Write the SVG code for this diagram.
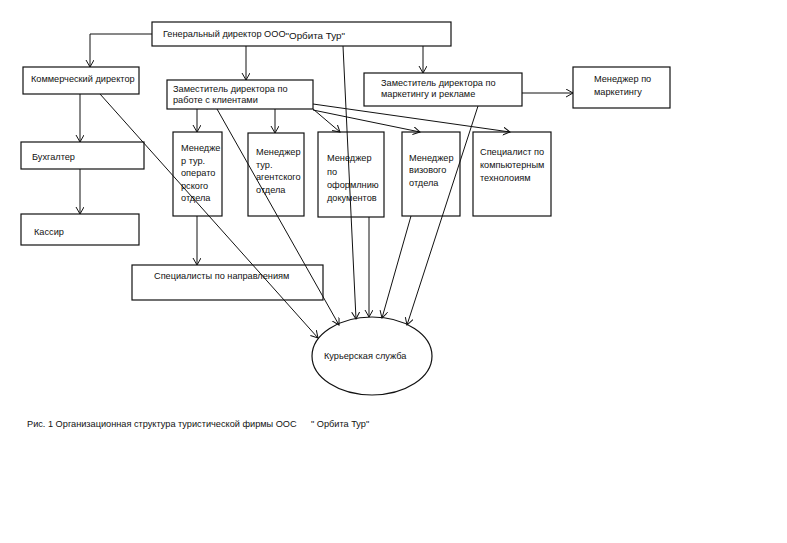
<svg xmlns="http://www.w3.org/2000/svg" width="787" height="543" viewBox="0 0 787 543">
<defs>
<style>
.b{fill:#fff;stroke:#111;stroke-width:1.2}
.t{font-family:"Liberation Sans",Arial,sans-serif;font-size:9.2px;fill:#111}
.c line,.c polyline{stroke:#111;stroke-width:1;fill:none;marker-end:url(#a)}
</style>
<marker id="a" markerUnits="userSpaceOnUse" markerWidth="9" markerHeight="9" refX="7" refY="4" orient="auto"><path d="M0,0 L7,4 L0,8" fill="none" stroke="#111" stroke-width="1"/></marker>
</defs>
<rect width="787" height="543" fill="#fff"/>
<g id="gen"><rect class="b" x="152" y="22" width="299" height="24"/><text class="t" x="163" y="37">Генеральный директор ООО<tspan font-size="9.8px" dy="2">"Орбита Тур"</tspan></text></g>
<g id="kom"><rect class="b" x="23" y="67" width="116" height="27"/><text class="t" x="31" y="82">Коммерческий директор</text></g>
<g id="zkl"><rect class="b" x="167" y="80" width="146" height="29"/><text class="t" x="173" y="92">Заместитель директора по</text><text class="t" x="173" y="103">работе с клиентами</text></g>
<g id="zmk"><rect class="b" x="364" y="73" width="158" height="33"/><text class="t" x="381" y="86">Заместитель директора по</text><text class="t" x="381" y="97">маркетингу и рекламе</text></g>
<g id="mmk"><rect class="b" x="573" y="67" width="97" height="41"/><text class="t" x="594" y="82">Менеджер по</text><text class="t" x="594" y="95">маркетингу</text></g>
<g id="buh"><rect class="b" x="21" y="142" width="123" height="27"/><text class="t" x="32" y="160">Бухгалтер</text></g>
<g id="kas"><rect class="b" x="21" y="214" width="118" height="31"/><text class="t" x="34" y="235">Кассир</text></g>
<g id="mto"><rect class="b" x="173" y="132" width="49" height="84"/><text class="t" x="181" y="151">Менедже</text><text class="t" x="181" y="164">р тур.</text><text class="t" x="181" y="176">операто</text><text class="t" x="181" y="189">рского</text><text class="t" x="181" y="201">отдела</text></g>
<g id="mta"><rect class="b" x="248" y="133" width="56" height="83"/><text class="t" x="256" y="155">Менеджер</text><text class="t" x="256" y="168">тур.</text><text class="t" x="256" y="180">агентского</text><text class="t" x="256" y="193">отдела</text></g>
<g id="mod"><rect class="b" x="318" y="132" width="66" height="85"/><text class="t" x="327" y="161">Менеджер</text><text class="t" x="327" y="175">по</text><text class="t" x="327" y="188">оформлнию</text><text class="t" x="327" y="201">документов</text></g>
<g id="mvo"><rect class="b" x="402" y="132" width="58" height="84"/><text class="t" x="409" y="161">Менеджер</text><text class="t" x="409" y="173">визового</text><text class="t" x="409" y="186">отдела</text></g>
<g id="skt"><rect class="b" x="473" y="132" width="78" height="84"/><text class="t" x="480" y="155">Специалист по</text><text class="t" x="480" y="168">компьютерным</text><text class="t" x="480" y="181">технолоиям</text></g>
<g id="spn"><rect class="b" x="132" y="265" width="191" height="35"/><text class="t" x="154" y="279">Специалисты по направлениям</text></g>
<g id="kur"><ellipse class="b" cx="372" cy="356" rx="60" ry="39"/><text class="t" x="324" y="359">Курьерская служба</text></g>
<g class="c" id="connectors">
<polyline points="152,34 90,34 90,67"/>
<line x1="246" y1="46" x2="246" y2="80"/>
<line x1="423" y1="46" x2="423" y2="73"/>
<line x1="343" y1="46" x2="356" y2="319"/>
<line x1="80" y1="94" x2="80" y2="142"/>
<line x1="80" y1="169" x2="80" y2="214"/>
<line x1="100" y1="94" x2="318" y2="338"/>
<line x1="197" y1="109" x2="197" y2="132"/>
<line x1="275" y1="109" x2="275" y2="133"/>
<line x1="313" y1="109" x2="340" y2="132"/>
<line x1="313" y1="110" x2="420" y2="132"/>
<line x1="313" y1="104" x2="510" y2="132"/>
<line x1="217" y1="109" x2="339" y2="325"/>
<line x1="197" y1="216" x2="197" y2="265"/>
<line x1="369" y1="217" x2="369" y2="317"/>
<line x1="411" y1="216" x2="382" y2="318"/>
<line x1="478" y1="106" x2="407" y2="325"/>
<line x1="522" y1="93" x2="573" y2="93"/>
</g>
<text class="t" x="27" y="427">Рис. 1 Организационная структура туристической фирмы ООС</text>
<text class="t" x="311" y="427">" Орбита Тур"</text>
</svg>
